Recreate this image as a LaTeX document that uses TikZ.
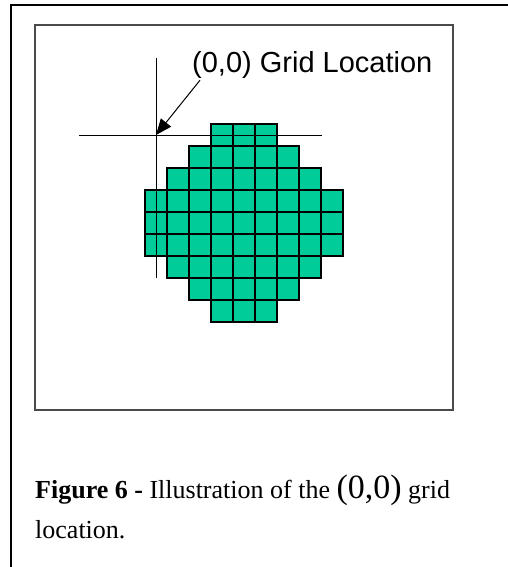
\documentclass[tikz,border=0pt]{standalone}
\usepackage{fontspec}
\setmainfont{Liberation Serif}
\newfontfamily\labelfont{Liberation Sans}
\usetikzlibrary{positioning,arrows.meta}
\usepackage{xcolor}
\definecolor{cellfill}{HTML}{00CC99}
\definecolor{boxline}{HTML}{4A4A4A}

\begin{document}
\begin{tikzpicture}[x=1pt,y=-1pt,
  cell/.style={draw=black,fill=cellfill,line width=1.2pt},
  hair/.style={draw=black,line width=1pt}]
  \useasboundingbox (0,0) rectangle (508,567);
  % page frame
  \draw[line width=1.7pt] (11,567) -- (11,5) -- (508,5);
  % picture box
  \draw[draw=boxline,line width=1.3pt] (35,25) rectangle (453,410);
  % cells: row / first col / last col
  \foreach \r/\a/\b in {0/3/5,1/2/6,2/1/7,3/0/8,4/0/8,5/0/8,6/1/7,7/2/6,8/3/5}{
    \foreach \c in {\a,...,\b}{
      \draw[cell] (145+22*\c,124+22*\r) rectangle ++(22,22);
    }
  }
  % cross hair
  \coordinate (origin) at (156,135);
  \draw[hair] (79,135) -- (322,135);
  \draw[hair] (156,58) -- (156,278);
  \node[font=\labelfont\fontsize{29}{30}\selectfont,anchor=base west,inner sep=0pt] (gridlabel) at (192,73) {(0,0) Grid Location};
  \draw[-{Triangle[length=16pt,width=13pt]},line width=1pt] ([xshift=8pt,yshift=-1pt]gridlabel.south west) -- (origin);
  % caption
  \node[anchor=base west,inner sep=0pt,font=\fontsize{26}{30}\selectfont] (capA) at (35,498)
    {\textbf{Figure 6 -} Illustration of the {\fontsize{34}{36}\selectfont(0,0)} grid};
  \node[anchor=base west,inner sep=0pt,font=\fontsize{26}{30}\selectfont] (capB) at ([yshift=-40pt]capA.base west) {location.};
\end{tikzpicture}
\end{document}
